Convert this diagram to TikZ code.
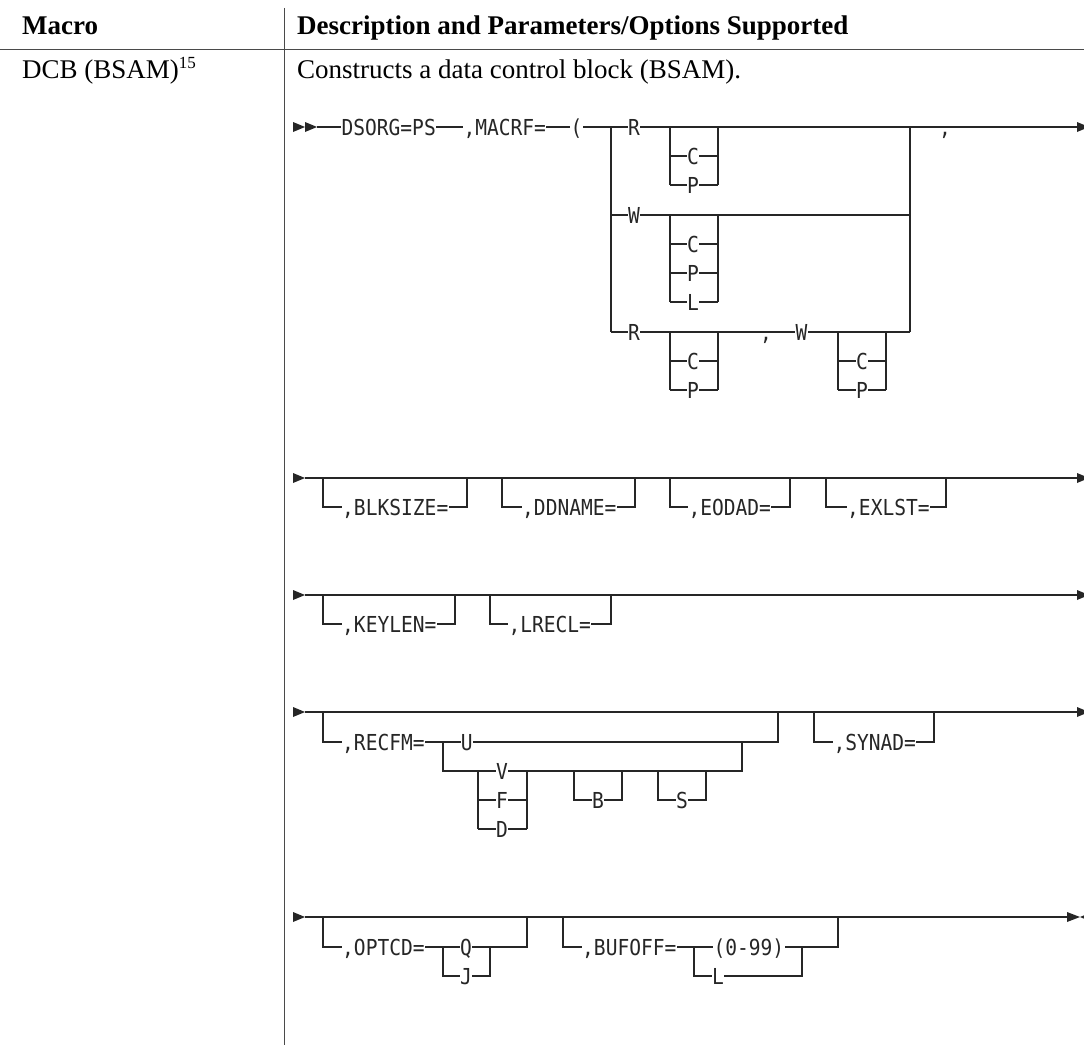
\documentclass[tikz,border=0pt]{standalone}
\usepackage{fontspec}
\setmainfont{Liberation Serif}
\newfontfamily\monof[FakeStretch=0.89]{DejaVu Sans Mono}
\definecolor{ink}{HTML}{262626}
\definecolor{rule}{HTML}{4A4A4A}
\begin{document}
\begin{tikzpicture}[x=1pt,y=-1pt,
  rail/.style={draw=ink,line width=1.1pt},
  tabline/.style={draw=rule,line width=0.9pt},
  lbl/.style={font=\monof\fontsize{22}{23}\selectfont,text=ink,fill=white,inner xsep=0.3pt,inner ysep=1pt},
  lw/.style={lbl,anchor=base west},
  lc/.style={lbl,anchor=base},
  hdr/.style={font=\fontsize{27}{29}\selectfont\bfseries,text=black,anchor=base west,inner sep=0pt},
  cell/.style={font=\fontsize{27}{29}\selectfont,text=black,anchor=base west,inner sep=0pt},
  tri/.style={fill=ink,draw=none}]
\useasboundingbox (0,0) rectangle (1084,1049);
\fill[white] (0,0) rectangle (1084,1049);

% ---------- table ----------
\draw[tabline] (284.5,8) -- (284.5,1045);
\draw[tabline] (0,49) -- (1084,49);
\node[hdr] (hmacro) at (22,35) {Macro};
\node[hdr] (hdesc) at (297,35) {Description and Parameters/Options Supported};
\node[cell] (cmacro) at (22,78) {DCB (BSAM)\textsuperscript{\fontsize{17}{17}\selectfont 15}};
\node[cell] (cdesc) at (297,78) {Constructs a data control block (BSAM).};

% ---------- row 1 ----------
\fill[tri] (293,122) -- (305,127) -- (293,132) -- cycle;
\fill[tri] (305,122) -- (317,127) -- (305,132) -- cycle;
\draw[rail] (317,127) -- (1077,127);
\fill[tri] (1077,122) -- (1089,127) -- (1077,132) -- cycle;
% main choice R / W / R,W
\draw[rail] (611,127) -- (611,332);
\draw[rail] (611,215) -- (910,215);
\draw[rail] (611,332) -- (910,332);
\draw[rail] (910,127) -- (910,332);
% sub choices under R
\draw[rail] (670,127) -- (670,185) (670,156) -- (718,156) (670,185) -- (718,185) (718,127) -- (718,185);
% sub choices under W
\draw[rail] (670,215) -- (670,302) (670,244) -- (718,244) (670,273) -- (718,273) (670,302) -- (718,302) (718,215) -- (718,302);
% sub choices under R (third)
\draw[rail] (670,332) -- (670,390) (670,361) -- (718,361) (670,390) -- (718,390) (718,332) -- (718,390);
% sub choices under W (third)
\draw[rail] (838,332) -- (838,390) (838,361) -- (886,361) (838,390) -- (886,390) (886,332) -- (886,390);

\node[lw] (dsorg) at (341,127+8) {DSORG=PS};
\node[lw] (macrf) at (463,127+8) {,MACRF=};
\node[lw] (paren) at (570,127+8) {(};
\node[lc] (r1) at (634,127+8) {R};
\node[lc] (r1c) at (693,156+8) {C};
\node[lc] (r1p) at (693,185+8) {P};
\node[lc] (w1) at (634,215+8) {W};
\node[lc] (w1c) at (693,244+8) {C};
\node[lc] (w1p) at (693,273+8) {P};
\node[lc] (w1l) at (693,302+8) {L};
\node[lc] (r3) at (634,332+8) {R};
\node[lc] (r3c) at (693,361+8) {C};
\node[lc] (r3p) at (693,390+8) {P};
\node[lc] (cm3) at (766,332+8) {,};
\node[lc] (w3) at (801.5,332+8) {W};
\node[lc] (w3c) at (862,361+8) {C};
\node[lc] (w3p) at (862,390+8) {P};
\node[lc] (cm1) at (945,127+8) {,};

% ---------- row 2 ----------
\fill[tri] (293,473) -- (305,478) -- (293,483) -- cycle;
\draw[rail] (305,478) -- (1077,478);
\fill[tri] (1077,473) -- (1089,478) -- (1077,483) -- cycle;
\draw[rail] (323,478) -- (323,507) -- (467,507) -- (467,478);
\draw[rail] (502,478) -- (502,507) -- (635,507) -- (635,478);
\draw[rail] (670,478) -- (670,507) -- (790,507) -- (790,478);
\draw[rail] (826,478) -- (826,507) -- (946,507) -- (946,478);
\node[lw] (blk) at (341.7,507+8) {,BLKSIZE=};
\node[lw] (ddn) at (521.7,507+8) {,DDNAME=};
\node[lw] (eod) at (688,507+8) {,EODAD=};
\node[lw] (exl) at (846.7,507+8) {,EXLST=};

% ---------- row 3 ----------
\fill[tri] (293,590) -- (305,595) -- (293,600) -- cycle;
\draw[rail] (305,595) -- (1077,595);
\fill[tri] (1077,590) -- (1089,595) -- (1077,600) -- cycle;
\draw[rail] (323,595) -- (323,624) -- (455,624) -- (455,595);
\draw[rail] (490,595) -- (490,624) -- (611,624) -- (611,595);
\node[lw] (key) at (341.7,624+8) {,KEYLEN=};
\node[lw] (lrecl) at (508,624+8) {,LRECL=};

% ---------- row 4 ----------
\fill[tri] (293,707) -- (305,712) -- (293,717) -- cycle;
\draw[rail] (305,712) -- (1077,712);
\fill[tri] (1077,707) -- (1089,712) -- (1077,717) -- cycle;
\draw[rail] (323,712) -- (323,742) -- (778,742) -- (778,712);
\draw[rail] (443,742) -- (443,771) -- (742,771) -- (742,742);
\draw[rail] (478,771) -- (478,829) (478,800) -- (527,800) (478,829) -- (527,829) (527,771) -- (527,829);
\draw[rail] (574,771) -- (574,800) -- (622,800) -- (622,771);
\draw[rail] (658,771) -- (658,800) -- (706,800) -- (706,771);
\draw[rail] (814,712) -- (814,742) -- (934,742) -- (934,712);
\node[lw] (recfm) at (341.7,742+8) {,RECFM=};
\node[lc] (u) at (466.7,742+8) {U};
\node[lc] (v) at (502,771+8) {V};
\node[lc] (f) at (502,800+8) {F};
\node[lc] (d) at (502,829+8) {D};
\node[lc] (b) at (598,800+8) {B};
\node[lc] (s) at (682,800+8) {S};
\node[lw] (synad) at (833,742+8) {,SYNAD=};

% ---------- row 5 ----------
\fill[tri] (293,912) -- (305,917) -- (293,922) -- cycle;
\draw[rail] (305,917) -- (1067,917);
\fill[tri] (1067,912) -- (1080,917) -- (1067,922) -- cycle;
\fill[tri] (1092,912) -- (1080,917) -- (1092,922) -- cycle;
\draw[rail] (323,917) -- (323,947) -- (527,947) -- (527,917);
\draw[rail] (443,947) -- (443,976) -- (490,976) -- (490,947);
\draw[rail] (563,917) -- (563,947) -- (838,947) -- (838,917);
\draw[rail] (694,947) -- (694,976) -- (802,976) -- (802,947);
\node[lw] (optcd) at (341.7,947+8) {,OPTCD=};
\node[lc] (q) at (466,947+8) {Q};
\node[lc] (j) at (466,976+8) {J};
\node[lw] (bufoff) at (581.7,947+8) {,BUFOFF=};
\node[lw] (rng) at (713,947+8) {(0-99)};
\node[lc] (l5) at (718,976+8) {L};
\end{tikzpicture}
\end{document}
